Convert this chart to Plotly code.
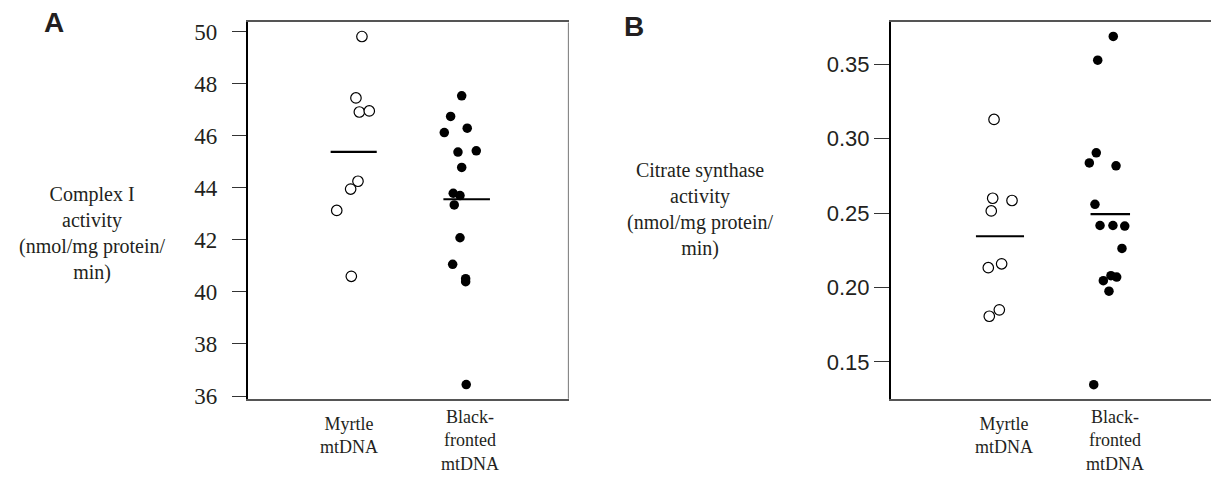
import plotly.graph_objects as go

W, H = 1211, 478

categories = ["Myrtle<br>mtDNA", "Black-<br>fronted<br>mtDNA"]
cat_pos = [1, 2]

# Panel A: Complex I activity
a_myrtle = [49.81, 47.45, 46.91, 46.95, 44.25, 43.95, 43.13, 40.60]
a_myrtle_jit = [0.073, 0.020, 0.050, 0.138, 0.038, -0.027, -0.150, -0.021]
a_black = [47.53, 46.74, 46.12, 46.29, 45.37, 45.42, 44.78, 43.79, 43.70, 43.34,
           42.08, 41.06, 40.51, 40.39, 36.44]
a_black_jit = [-0.044, -0.142, -0.198, 0.005, -0.077, 0.085, -0.044, -0.119, -0.059,
               -0.110, -0.059, -0.124, -0.009, -0.009, -0.004]
a_means = [45.38, 43.56]
a_ticks = [36, 38, 40, 42, 44, 46, 48, 50]

# Panel B: Citrate synthase activity
b_myrtle = [0.3128, 0.2599, 0.2584, 0.2514, 0.2159, 0.2133, 0.1850, 0.1807]
b_myrtle_jit = [-0.054, -0.066, 0.109, -0.079, 0.015, -0.106, -0.006, -0.097]
b_black = [0.3685, 0.3526, 0.2904, 0.2836, 0.2817, 0.2558, 0.2416, 0.2416, 0.2412,
           0.2262, 0.2046, 0.2079, 0.2070, 0.1975, 0.1348]
b_black_jit = [0.027, -0.114, -0.127, -0.190, 0.052, -0.139, -0.093, 0.024, 0.131,
               0.106, -0.063, 0.006, 0.058, -0.012, -0.150]
b_means = [0.2344, 0.2492]
b_ticks = [0.15, 0.20, 0.25, 0.30, 0.35]
b_ticktext = ["0.15", "0.20", "0.25", "0.30", "0.35"]

TXT = "#231f20"
GRAY = "#555555"
SERIF = "Liberation Serif"
SANS = "Liberation Sans"

fig = go.Figure()

def add_panel(xa, ya, my, myj, bl, blj, means, halfw):
    fig.add_trace(go.Scatter(
        x=[cat_pos[0] + j for j in myj], y=my, mode="markers",
        marker=dict(symbol="circle", size=10.5, color="white",
                    line=dict(color="black", width=1.2)),
        xaxis=xa, yaxis=ya, showlegend=False, hoverinfo="y"))
    fig.add_trace(go.Scatter(
        x=[cat_pos[1] + j for j in blj], y=bl, mode="markers",
        marker=dict(symbol="circle", size=9.5, color="black",
                    line=dict(width=0)),
        xaxis=xa, yaxis=ya, showlegend=False, hoverinfo="y"))
    for c, m, hw in zip(cat_pos, means, halfw):
        fig.add_trace(go.Scatter(
            x=[c - hw, c + hw], y=[m, m], mode="lines",
            line=dict(color="black", width=2.2),
            xaxis=xa, yaxis=ya, showlegend=False, hoverinfo="skip"))

add_panel("x", "y", a_myrtle, a_myrtle_jit, a_black, a_black_jit, a_means, [0.204, 0.206])
add_panel("x2", "y2", b_myrtle, b_myrtle_jit, b_black, b_black_jit, b_means, [0.218, 0.179])

ydom = [1 - 406.7 / H, 1 - 20 / H]

fig.update_layout(
    width=W, height=H,
    margin=dict(l=0, r=0, t=0, b=0),
    paper_bgcolor="white", plot_bgcolor="white",
    font=dict(family=SERIF, color=TXT),
    xaxis=dict(domain=[248 / W, 568.7 / W], range=[0.0646, 2.903],
               showgrid=False, zeroline=False, showticklabels=False, ticks="",
               showline=True, linecolor=GRAY, linewidth=1.6, mirror=True),
    yaxis=dict(domain=ydom, range=[35.9, 50.35], tickvals=a_ticks,
               showgrid=False, zeroline=False,
               showline=True, linecolor="black", linewidth=2.2,
               ticks="outside", ticklen=14, tickwidth=1.4, tickcolor="#333",
               ticklabelstandoff=10,
               tickfont=dict(family=SERIF, size=23, color=TXT)),
    xaxis2=dict(domain=[891 / W, 1.0], range=[0.012, 2.913], anchor="y2",
                showgrid=False, zeroline=False, showticklabels=False, ticks="",
                showline=True, linecolor=GRAY, linewidth=1.6, mirror=True),
    yaxis2=dict(domain=ydom, range=[0.1254, 0.3779], anchor="x2",
                tickvals=b_ticks, ticktext=b_ticktext,
                showgrid=False, zeroline=False,
                showline=True, linecolor="black", linewidth=2.2,
                ticks="outside", ticklen=15, tickwidth=1.4, tickcolor="#333",
                tickfont=dict(family=SANS, size=22, color=TXT)),
)

# right border of panel A
fig.add_shape(type="line", xref="x", yref="paper", x0=2.903, x1=2.903,
              y0=ydom[0], y1=ydom[1], line=dict(color=GRAY, width=1.6))

ann = []
# panel letters
ann.append(dict(text="<b>A</b>", x=54 / W, y=1 - 20 / H, xref="paper", yref="paper",
                showarrow=False, font=dict(family=SANS, size=28, color=TXT),
                xanchor="center", yanchor="middle"))
ann.append(dict(text="<b>B</b>", x=634 / W, y=1 - 24 / H, xref="paper", yref="paper",
                showarrow=False, font=dict(family=SANS, size=28, color=TXT),
                xanchor="center", yanchor="middle"))
# y-axis titles
ann.append(dict(text="Complex I<br>activity<br>(nmol/mg protein/<br>min)",
                x=92.5 / W, y=1 - 237 / H, xref="paper", yref="paper",
                showarrow=False, font=dict(family=SERIF, size=20, color=TXT),
                xanchor="center", yanchor="middle", align="center"))
ann.append(dict(text="Citrate synthase<br>activity<br>(nmol/mg protein/<br>min)",
                x=700.8 / W, y=1 - 212 / H, xref="paper", yref="paper",
                showarrow=False, font=dict(family=SERIF, size=20, color=TXT),
                xanchor="center", yanchor="middle", align="center"))
# category labels
label_shift_a = [-5, 3]
label_shift_b = [4, 5]
label_y = [445, 450]
for xr, shifts in (("x", label_shift_a), ("x2", label_shift_b)):
    for c, lab, s, ly in zip(cat_pos, categories, shifts, label_y):
        ann.append(dict(text=lab, x=c, xref=xr, y=1 - ly / H, yref="paper",
                        xshift=s, showarrow=False,
                        font=dict(family=SERIF, size=18, color=TXT),
                        xanchor="center", yanchor="middle", align="center"))
fig.update_layout(annotations=ann)

fig.write_html("out.html")
